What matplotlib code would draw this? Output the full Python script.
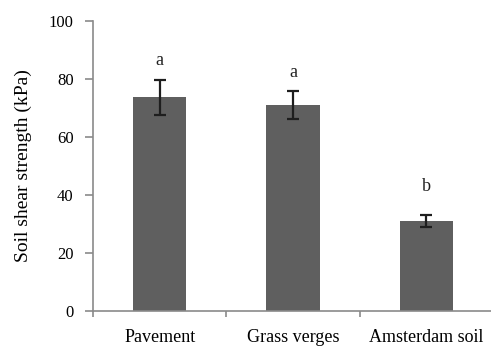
import matplotlib.pyplot as plt

# ── Data ──────────────────────────────────────────────────────────────────────
SITES   = ['Pavement', 'Grass verges', 'Amsterdam soil']
MEANS   = [73.6, 70.9, 31.0]
ERRORS  = [6.0, 4.9, 2.1]
LETTERS = ['a', 'a', 'b']
LETTER_Y = [86.4, 82.0, 42.7]
Y_TICKS = [0, 20, 40, 60, 80, 100]

plt.rcParams['font.family'] = ['Liberation Serif', 'DejaVu Serif']

W, H = 491, 347
fig = plt.figure(figsize=(W / 100, H / 100), dpi=100)
ax = fig.add_axes([93 / W, 1 - 310.7 / H, 400 / W, 290 / H])

x = range(len(SITES))
ax.bar(x, MEANS, width=0.4, color='#5f5f5f', zorder=2)
ax.errorbar(x, MEANS, yerr=ERRORS, fmt='none', ecolor='#1e1e1e',
            elinewidth=1.6, capsize=4.5, capthick=1.6, zorder=3)

# significance letters above each bar
for xi, letter, ly in zip(x, LETTERS, LETTER_Y):
    ax.text(xi, ly, letter, ha='center', va='center', fontsize=13, color='#222222')

ax.set_xlim(-0.5, 2.5)
ax.set_ylim(0, 100)
ax.set_yticks(Y_TICKS)
# ticks sit between categories, labels centred under the bars
ax.set_xticks([-0.5, 0.5, 1.5, 2.5])
ax.set_xticklabels([])
ax.set_xticks(list(x), minor=True)
ax.set_xticklabels(SITES, minor=True, fontsize=13)
ax.tick_params(axis='x', which='minor', length=0, pad=13)
ax.tick_params(axis='x', which='major', length=4, width=1.2, color='#8a8a8a')
ax.tick_params(axis='y', length=6, width=1.2, color='#8a8a8a', pad=8, labelsize=12)

ax.set_ylabel('Soil shear strength (kPa)', fontsize=14, labelpad=12)

for side in ['top', 'right']:
    ax.spines[side].set_visible(False)
for side in ['left', 'bottom']:
    ax.spines[side].set_color('#8a8a8a')
    ax.spines[side].set_linewidth(1.2)

plt.savefig('out.png', dpi=100)
plt.close()
